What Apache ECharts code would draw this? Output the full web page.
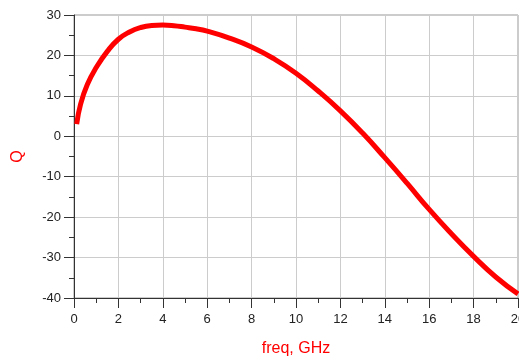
<!DOCTYPE html>
<html>
<head>
<meta charset="utf-8">
<script src="https://cdn.jsdelivr.net/npm/echarts@6/dist/echarts.min.js"></script>
<style>
html,body{margin:0;padding:0;background:#fff;}
#chart{width:519px;height:361px;}
</style>
</head>
<body>
<div id="chart"></div>
<script>
const freq = [0.12, 0.3, 0.6, 1.0, 1.5, 2.0, 2.5, 3.0, 3.5, 4.0, 4.5, 5.0, 5.5, 6.0, 7.0, 8.0, 9.0, 10.0, 11.0, 12.0, 13.0, 14.0, 15.0, 16.0, 17.0, 18.0, 19.0, 20.0];
const qValues = [3.0, 8.0, 12.8, 17.0, 21.0, 24.0, 25.8, 26.9, 27.4, 27.5, 27.35, 27.0, 26.6, 26.0, 24.3, 22.1, 19.2, 15.6, 11.2, 6.3, 0.8, -5.3, -11.6, -18.1, -24.1, -29.7, -34.8, -39.0];
const xTicks = [0, 2, 4, 6, 8, 10, 12, 14, 16, 18, 20];
const yTicks = [-40, -30, -20, -10, 0, 10, 20, 30];

const chart = echarts.init(document.getElementById('chart'), null, {renderer: 'canvas'});
const font = 'Liberation Sans, Arial, sans-serif';
chart.setOption({
  animation: false,
  backgroundColor: '#fff',
  grid: {left: 74, right: 1, top: 15, bottom: 63, show: true, borderColor: '#999', borderWidth: 1, containLabel: false, outerBoundsMode: 'none'},
  xAxis: {
    type: 'value', min: xTicks[0], max: xTicks[xTicks.length - 1], interval: 2,
    name: 'freq, GHz', nameLocation: 'middle', nameGap: 43,
    nameTextStyle: {color: '#ff0000', fontSize: 16, fontFamily: font},
    axisLine: {show: true, onZero: false, lineStyle: {color: '#333', width: 1}},
    axisTick: {show: true, length: 10, lineStyle: {color: '#333'}},
    minorTick: {show: true, splitNumber: 2, length: 5, lineStyle: {color: '#333'}},
    axisLabel: {color: '#222', fontSize: 13, fontFamily: font, margin: 15, hideOverlap: false},
    splitLine: {show: true, lineStyle: {color: '#ccc', width: 1}}
  },
  yAxis: {
    type: 'value', min: yTicks[0], max: yTicks[yTicks.length - 1], interval: 10,
    name: 'Q', nameLocation: 'middle', nameGap: 48, nameRotate: 90,
    nameTextStyle: {color: '#ff0000', fontSize: 16, fontFamily: font},
    axisLine: {show: true, onZero: false, lineStyle: {color: '#333', width: 1}},
    axisTick: {show: true, length: 10, lineStyle: {color: '#333'}},
    minorTick: {show: true, splitNumber: 2, length: 5, lineStyle: {color: '#333'}},
    axisLabel: {color: '#222', fontSize: 13, fontFamily: font, margin: 13},
    splitLine: {show: true, lineStyle: {color: '#ccc', width: 1}}
  },
  series: [{
    type: 'line',
    data: freq.map((f, i) => [f, qValues[i]]),
    smooth: true,
    showSymbol: false,
    lineStyle: {color: '#ff0000', width: 5},
    itemStyle: {color: '#ff0000'}
  }]
});
</script>
</body>
</html>
